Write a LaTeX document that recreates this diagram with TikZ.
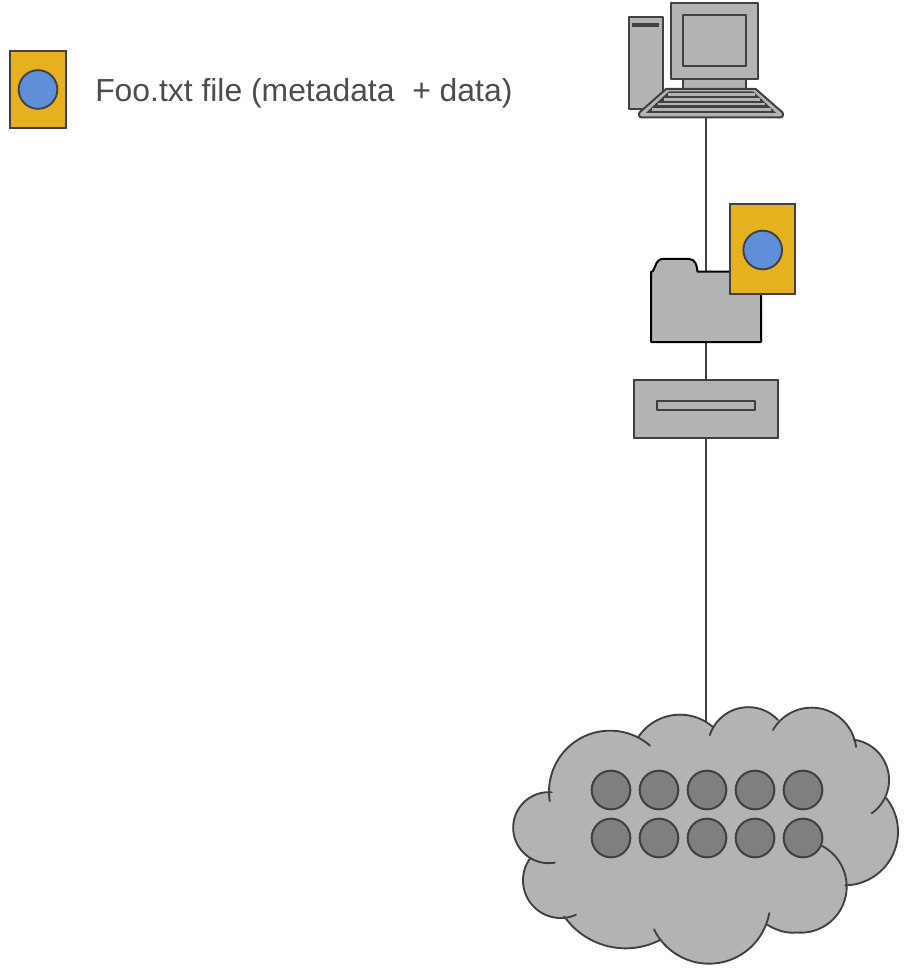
\documentclass[tikz,border=0pt]{standalone}
\usepackage{fontspec}
\setmainfont{Liberation Sans}
\definecolor{edge}{HTML}{404040}
\definecolor{body}{HTML}{B3B3B3}
\definecolor{dots}{HTML}{7F7F7F}
\definecolor{gold}{HTML}{E6B11F}
\definecolor{blue}{HTML}{5F8FD9}
\definecolor{labelc}{HTML}{4D4D4D}
\tikzset{
  part/.style={draw=edge,fill=body,line width=1.5pt,line join=round},
  rectnode/.style={part,rectangle,inner sep=0pt,outer sep=0pt},
  dot/.style={circle,draw=edge,fill=dots,line width=1.5pt,minimum size=29pt,inner sep=0pt},
  sheet/.style={rectangle,draw=edge,fill=gold,line width=1.4pt,inner sep=0pt,outer sep=0pt},
  disc/.style={circle,draw=edge,fill=blue,line width=1.4pt,inner sep=0pt,minimum size=29pt},
  lobefill/.style={fill=body,draw=body,line width=0.6pt},
  lobeline/.style={draw=edge,line width=1.4pt,line cap=round,line join=round}
}
\begin{document}
\begin{tikzpicture}[x=0.75pt,y=-0.75pt]
\useasboundingbox (0,0) rectangle (903,973);
\coordinate (pc) at (706,118);
\coordinate (cloudtop) at (706,728);
\node[rectnode,minimum width=108pt,minimum height=43.5pt] (drive) at (706,409) {};
\draw[edge,line width=1.5pt] (pc) -- (cloudtop);
\node[rectnode,minimum width=108pt,minimum height=43.5pt] at (drive) {};
\node[rectnode,minimum width=73.5pt,minimum height=7pt] (slot) at (706,405.5) {};
% computer
\node[rectnode,minimum width=25.5pt,minimum height=69pt] (tower) at (645.5,63) {};
\fill[edge] (632,23.3) rectangle (659,26.7);
\node[rectnode,minimum width=47pt,minimum height=12pt] (neck) at (714.7,84) {};
\node[rectnode,minimum width=65.5pt,minimum height=57pt] (monitor) at (714.5,40.7) {};
\node[rectnode,minimum width=47pt,minimum height=38.3pt] (screen) at (714.7,40.5) {};
\draw[part] (666,89) -- (755.7,89) -- (782,112) .. controls (784,114) and (783,117.5) .. (780,117.5) -- (642,117.5) .. controls (639,117.5) and (638,114) .. (640,112) -- cycle;
\fill[edge] (669,91.3) -- (753,91.3) -- (776,112.8) -- (646,112.8) -- cycle;
\draw[body,line width=1.9pt] (668,94.7) -- (755,94.7) (663.5,99.3) -- (760,99.3) (658,104) -- (765,104) (652,109.3) -- (771,109.3);
% folder
\draw[draw=black,fill=body,line width=1.5pt,line join=round] (651,342) -- (651,272) -- (653,271) .. controls (656,266) and (656,259) .. (663,259) -- (689,259) .. controls (695,259) and (697,265) .. (697.5,271.7) -- (761,271.7) -- (761,342) -- cycle;
\node[sheet,minimum width=48.8pt,minimum height=67.5pt] (file) at (762.7,249) {};
\node[disc] (filedisc) at (762.7,250) {};
% legend
\node[sheet,minimum width=42pt,minimum height=57.5pt] (key) at (38,89.5) {};
\node[disc] (keydisc) at (38,89.5) {};
\node[anchor=west,inner sep=0pt,text=labelc,font=\fontsize{23.9pt}{28pt}\selectfont] (keytext) at (95,93) {Foo.txt file (metadata\ \ + data)};
% cloud
\begin{scope}[shift={(500,695)},x=0.25pt,y=-0.25pt]
\fill[lobefill] (415,128) -- (640,95) -- (835,75) -- (1062,135) -- (1158,310) -- (1037,572) -- (805,692) -- (480,735) -- (193,665) -- (95,490) -- (155,292) -- cycle;
\foreach \cx/\cy/\rr/\aa/\bb in {330/290/183/171/311, 540/209/150/213/311, 745/158/121.5/198/317, 935/172/134/210/353, 1045/255/122/278/415, 1033/410/161/-39/89, 627/622.5/183.5/10/154, 377/535/225/63/145, 182/556/113/66/217, 146/398/106.5/80/275}{
  \fill[lobefill] plot[domain=\aa:\bb,samples=60,variable=\t] ({\cx+\rr*cos(\t)},{\cy+\rr*sin(\t)}) -- cycle;
}
\fill[lobefill] plot[domain=-63:95,samples=60,variable=\t] ({902+138*cos(\t)},{575+138*sin(\t)}) .. controls (860,716) and (830,706) .. (803,690) -- cycle;
\foreach \cx/\cy/\rr/\aa/\bb in {330/290/183/171/311, 540/209/150/213/311, 745/158/121.5/198/317, 935/172/134/210/353, 1045/255/122/278/415, 1033/410/161/-39/89, 627/622.5/183.5/10/154, 377/535/225/63/145, 182/556/113/66/217, 146/398/106.5/80/275}{
  \draw[lobeline] plot[domain=\aa:\bb,samples=60,variable=\t] ({\cx+\rr*cos(\t)},{\cy+\rr*sin(\t)});
}
\draw[lobeline] plot[domain=-63:95,samples=60,variable=\t] ({902+138*cos(\t)},{575+138*sin(\t)}) .. controls (860,716) and (830,706) .. (803,690);
\end{scope}
\foreach \i/\x in {1/611,2/659,3/707,4/755,5/803}{
  \node[dot] (a\i) at (\x,790) {};
  \node[dot] (b\i) at (\x,838) {};
}
\end{tikzpicture}
\end{document}
